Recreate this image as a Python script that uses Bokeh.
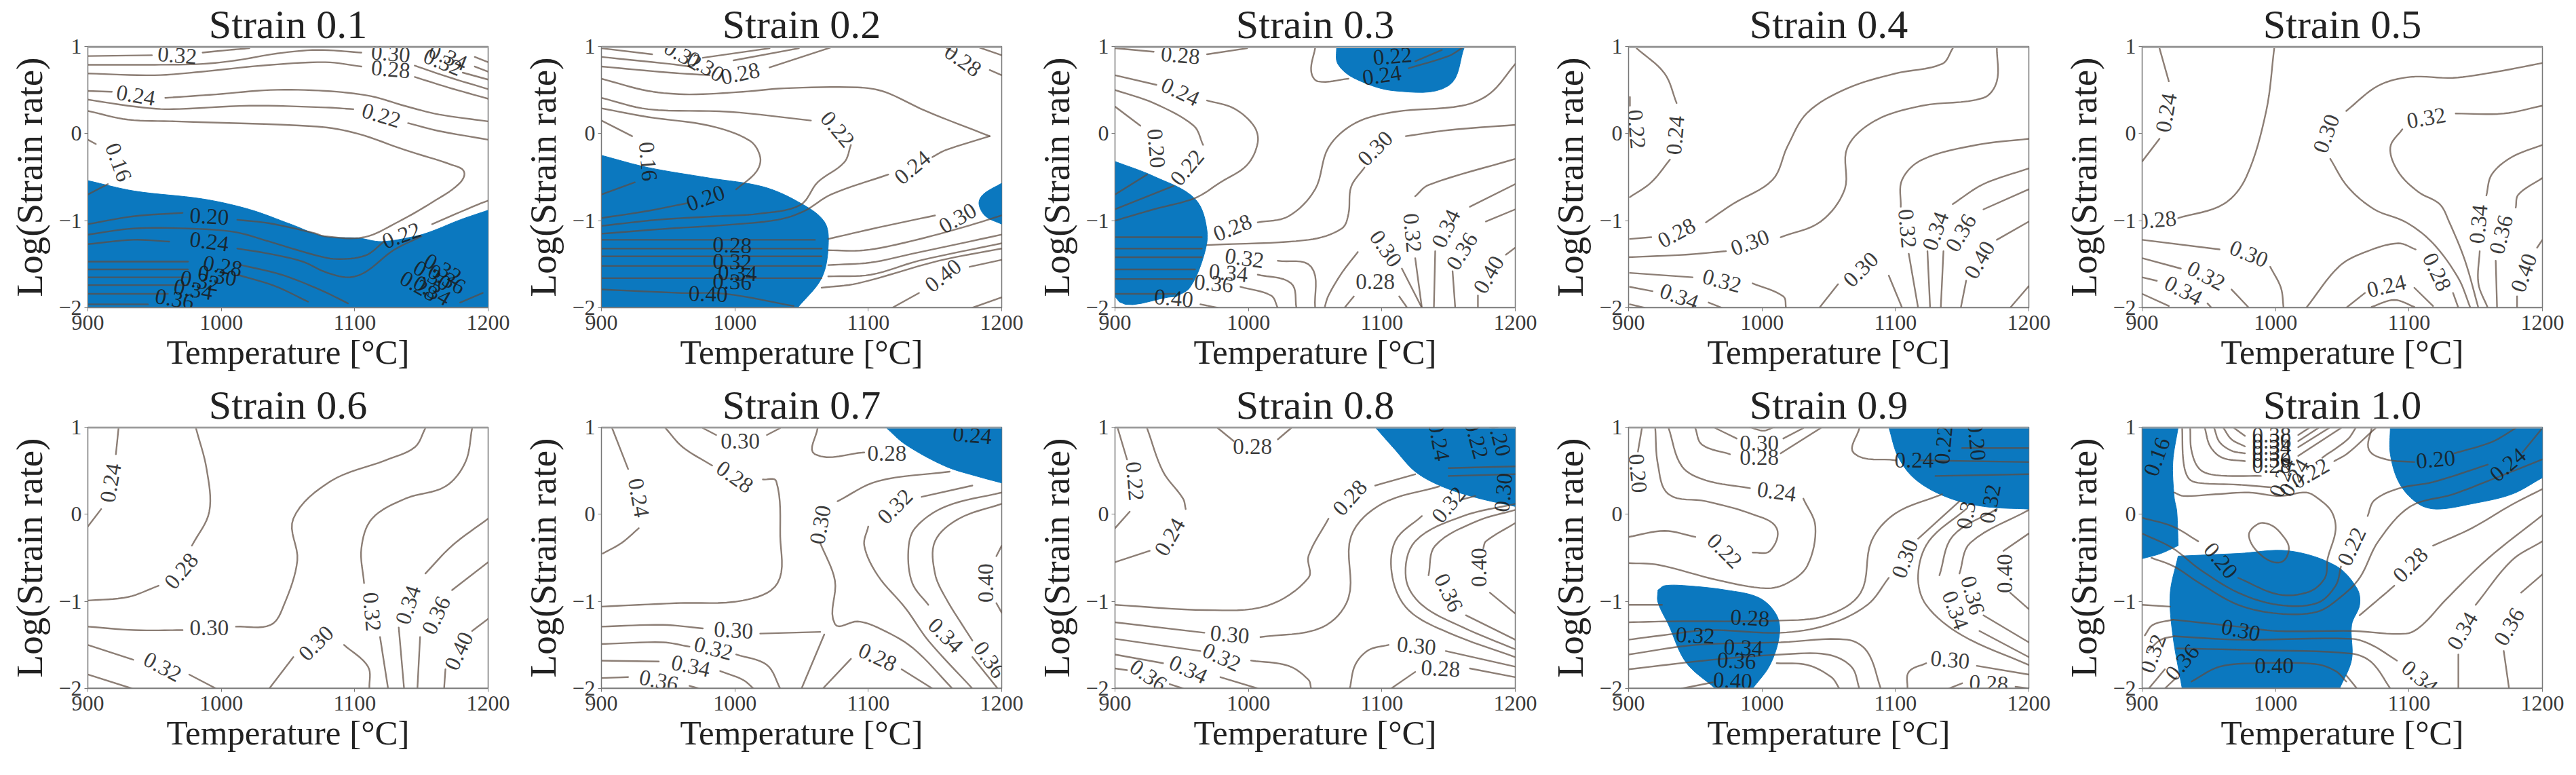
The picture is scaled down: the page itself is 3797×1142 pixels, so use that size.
from bokeh.plotting import figure
from bokeh.layouts import column, row
from bokeh.models import Span, ColumnDataSource, FixedTicker
from bokeh.core.properties import value
from bokeh.embed import file_html
from bokeh.resources import INLINE
import math

STRAINS = ["0.1", "0.2", "0.3", "0.4", "0.5", "0.6", "0.7", "0.8", "0.9", "1.0"]
X_TICKS = [900, 1000, 1100, 1200]
Y_TICKS = [-2, -1, 0, 1]
Y_TICK_TEXT = {-2: "\u22122", -1: "\u22121", 0: "0", 1: "1"}

# every point below is (temperature, log strain rate)
# labels are (temperature, log strain rate, text, angle)

S1_fill = [[[(900,-.54),(935,-.66),(986,-.75),(1021,-.87),(1052,-1.04),(1077,-1.18),(1103,-1.20),(1120,-1.24),(1145,-1.18),(1158,-1.12),(1179,-.99),(1200,-.88)],[(1200,-.88),(1200,-2),(900,-2),(900,-.54)]]]
S1_lines = [
 [(900,.89),(948,.90)],[(986,.93),(1006,.96),(1021,.98)],
 [(900,.79),(950,.79),(986,.80),(1011,.84),(1042,.92),(1072,.96),(1105,.93)],
 [(900,.69),(950,.67),(985,.71),(1030,.78),(1078,.82),(1105,.77)],
 [(1145,.78),(1170,.65),(1200,.51)],[(1145,.65),(1170,.53),(1200,.40)],[(1181,.70),(1200,.62)],[(1190,.77),(1200,.71)],[(1190,.88),(1200,.82)],
 [(900,.49),(918,.48)],[(958,.41),(996,.45),(1037,.50),(1078,.49),(1112,.43),(1137,.32),(1163,.22),(1200,.14)],
 [(900,.39),(935,.31),(961,.28),(1021,.32),(1078,.30),(1099,.28)],[(1140,.12),(1163,.03),(1200,-.07)],
 [(900,.26),(930,.16),(966,.14),(1072,.08),(1102,0),(1138,-.19),(1173,-.36),(1182,-.44),(1178,-.58),(1158,-.79),(1133,-1.01),(1107,-1.19),(1078,-1.18),(1069,-1.14),(1036,-1.03),(1012,-.99)],
 [(971,-.91),(934,-.95),(900,-1.04)],
 [(900,-.07),(906,-.12)],[(900,-.70),(915,-.58)],
 [(900,-1.16),(934,-1.09),(975,-1.09),(1010,-1.13),(1036,-1.24),(1069,-1.39),(1086,-1.44),(1108,-1.40),(1122,-1.24)],
 [(1158,-1.04),(1193,-.81),(1200,-.77)],
 [(900,-1.27),(934,-1.22),(961,-1.24)],[(1012,-1.32),(1036,-1.38),(1061,-1.47),(1078,-1.59),(1095,-1.65),(1108,-1.59),(1129,-1.34),(1150,-1.18)],
 [(900,-1.47),(975,-1.47)],[(900,-1.56),(975,-1.56)],[(900,-1.65),(975,-1.65)],[(900,-1.74),(975,-1.74)],[(900,-1.84),(960,-1.84)],[(900,-1.96),(945,-1.96)],
 [(1012,-1.50),(1045,-1.62),(1075,-1.80),(1095,-1.95)],[(1012,-1.62),(1040,-1.75),(1065,-1.93)],[(1179,-1.94),(1196,-1.83)],
]
S1_labels = [(967,.90,"0.32",-5),(1127,.92,"0.30",-5),(1127,.74,"0.28",-5),(1166,.82,"0.32",-22),(1170,.88,"0.34",-22),(936,.44,"0.24",-10),(1120,.21,"0.22",-17),(923,-.33,"0.16",-70),(991,-.95,"0.20",-3),(1135,-1.17,"0.22",20),(991,-1.24,"0.24",-8),
 (1001,-1.52,"0.28",-10),(997,-1.63,"0.30",-10),(984,-1.69,"0.32",-10),(979,-1.79,"0.34",-10),(965,-1.90,"0.36",-10),(1148,-1.75,"0.28",-30),(1158,-1.63,"0.30",-30),(1166,-1.55,"0.32",-30),(1158,-1.80,"0.34",-30),(1169,-1.67,"0.36",-30)]

S2_fill = [[[(900,-.25),(935,-.39),(981,-.51),(1021,-.61),(1047,-.78),(1067,-1.01),(1070,-1.29),(1065,-1.66),(1047,-2)],[(1047,-2),(900,-2),(900,-.25)]],
 [[(1200,-.57),(1186,-.70),(1183,-.81),(1188,-.95),(1200,-1.04)]]]
S2_lines = [
 [(900,.98),(938,.91)],[(900,.88),(951,.80),(966,.77)],[(900,.77),(951,.70),(981,.67)],
 [(976,.87),(1026,.98)],[(999,.84),(1048,.98)],[(1026,.76),(1072,.99)],
 [(900,.63),(935,.49),(966,.45),(1006,.48),(1037,.52),(1092,.53),(1112,.48),(1143,.26),(1191,-.03)],
 [(1191,-.03),(1158,-.19),(1148,-.27)],[(1115,-.47),(1072,-.70),(1052,-.89),(1032,-.99),(993,-1.05),(951,-1.09),(900,-1.15)],
 [(900,.41),(935,.28),(996,.25),(1057,.15)],[(1087,-.13),(1082,-.33),(1062,-.56),(1049,-.82),(1018,-.92),(985,-.95),(942,-.99),(900,-1.06)],
 [(900,.29),(935,.19),(981,.09),(1011,-.08),(1019,-.27),(1016,-.44),(1001,-.64)],[(964,-.80),(934,-.89),(900,-.97)],
 [(900,.15),(923,-.03)],[(900,-.70),(925,-.56)],
 [(1158,.99),(1165,.93)],[(1191,.73),(1200,.67)],[(1183,.99),(1200,.90)],
 [(1070,-1.21),(1107,-1.08),(1150,-.94)],[(1070,-1.34),(1097,-1.34),(1128,-1.25),(1168,-1.09),(1200,-.94)],
 [(1070,-1.51),(1102,-1.48),(1133,-1.38),(1200,-1.16)],[(1070,-1.64),(1102,-1.62),(1138,-1.46),(1200,-1.26)],[(1065,-1.77),(1092,-1.72),(1153,-1.46),(1200,-1.32)],
 [(1118,-2),(1138,-1.83)],[(1176,-1.53),(1200,-1.45)],[(1178,-2),(1200,-1.88)],
 [(900,-1.22),(1060,-1.22)],[(900,-1.32),(1065,-1.32)],[(900,-1.41),(1065,-1.41)],[(900,-1.52),(1065,-1.52)],[(900,-1.66),(1065,-1.66)],
 [(900,-1.79),(960,-1.83),(993,-1.84),(1044,-1.98)],
]
S2_labels = [(961,.90,"0.32",-30),(978,.77,"0.30",-30),(1004,.69,"0.28",12),(1171,.84,"0.28",-35),(1077,.05,"0.22",-50),(1133,-.39,"0.24",40),(935,-.32,"0.16",-85),(978,-.74,"0.20",20),(1167,-.97,"0.30",30),(998,-1.28,"0.28",-2),(998,-1.47,"0.32",-2),(1002,-1.60,"0.34",-2),(998,-1.70,"0.36",-2),(980,-1.84,"0.40",-2),(1156,-1.63,"0.40",38)]

S3_fill = [[[(900,-.32),(929,-.49),(960,-.75),(969,-1.12),(966,-1.43),(956,-1.77),(946,-1.87)],[(946,-1.87),(900,-1.87),(900,-.32)]],
 [[(1066,1),(1067,.80),(1080,.63),(1110,.49),(1150,.55),(1162,1)]]]
S3_lines = [
 [(900,.98),(929,.94)],[(969,.91),(999,.98)],
 [(900,.67),(931,.56)],[(969,.38),(989,.29),(1004,.09),(1007,-.10),(999,-.36),(979,-.56),(960,-.74),(929,-.87),(900,-1.0)],
 [(900,.50),(929,.35),(959,.09),(966,-.13)],[(944,-.60),(900,-.87)],
 [(900,.31),(919,.09)],[(924,-.47),(900,-.70)],
 [(1050,.98),(1047,.72),(1052,.60),(1075,.63)],[(1120,.75),(1150,.89),(1160,.98)],[(1125,.83),(1145,.96)],
 [(1007,-1.02),(1030,-.95),(1050,-.64),(1060,-.16),(1080,.12),(1110,.25),(1160,.32),(1181,.46),(1200,.80)],
 [(969,-1.28),(1045,-1.22),(1070,-1.09),(1075,-.92),(1077,-.61),(1087,-.39)],[(1118,-.03),(1150,.04),(1200,.10)],
 [(1125,-.72),(1135,-.59),(1200,-.29)],[(1125,-1.43),(1130,-2)],
 [(1166,-.84),(1200,-.58)],[(1140,-1.35),(1139,-2)],
 [(1178,-1.01),(1200,-.87)],[(1153,-1.58),(1155,-2)],
 [(1193,-1.39),(1200,-1.31)],[(1172,-1.86),(1172,-2)],
 [(1115,-1.55),(1130,-2)],[(1082,-1.36),(1070,-1.60),(1060,-1.86),(1057,-2)],[(1079,-1.87),(1072,-2)],[(1113,-1.87),(1119,-2)],
 [(1022,-1.46),(1047,-1.53),(1050,-2)],[(1007,-1.62),(1032,-1.72),(1036,-2)],[(994,-1.76),(1017,-1.86),(1022,-2)],[(964,-1.96),(977,-2)],
 [(900,-1.19),(965,-1.19)],[(900,-1.32),(965,-1.32)],[(900,-1.42),(965,-1.42)],[(900,-1.56),(960,-1.56)],[(900,-1.67),(958,-1.67)],[(900,-1.84),(945,-1.84)],
]
S3_labels = [(949,.90,"0.28",-5),(949,.48,"0.24",-25),(954,-.39,"0.22",50),(931,-.17,"0.20",-85),(1108,.89,"0.22",5),(1100,.67,"0.24",8),(988,-1.08,"0.28",22),(1095,-.17,"0.30",45),(1123,-1.14,"0.32",-85),(1148,-1.09,"0.34",65),(1160,-1.35,"0.36",58),(1180,-1.62,"0.40",60),(1103,-1.32,"0.30",-55),(1095,-1.70,"0.28",0),(997,-1.43,"0.32",-8),(985,-1.60,"0.34",-5),(974,-1.72,"0.36",-5),(944,-1.89,"0.40",-5)]

S4_fill = []
S4_lines = [
 [(906,.98),(927,.69),(936,.35)],[(931,-.30),(917,-.56),(901,-.73)],[(901,.42),(901,.32)],
 [(1143,.98),(1135,.80),(1100,.69),(1064,.52),(1034,.24),(1019,-.15),(1008,-.53),(978,-.81),(958,-1.02)],[(917,-1.19),(901,-1.21)],
 [(1176,.98),(1176,.60),(1166,.41),(1120,.32),(1085,.15),(1064,-.16),(1062,-.64),(1044,-1.01),(1014,-1.19)],[(973,-1.35),(943,-1.39),(900,-1.42)],
 [(1200,-.06),(1161,-.13),(1120,-.30),(1105,-.53),(1104,-.84)],[(1110,-1.38),(1117,-2)],
 [(1200,-.40),(1166,-.58),(1143,-.81)],[(1124,-1.35),(1126,-2)],
 [(1200,-.64),(1166,-.87)],[(1136,-1.35),(1134,-2)],
 [(1200,-1.01),(1176,-1.22)],[(1153,-1.69),(1149,-2)],[(1200,-1.75),(1186,-2)],
 [(1057,-1.73),(1043,-2)],[(1095,-1.63),(1105,-2)],
 [(901,-1.60),(948,-1.65)],[(993,-1.72),(1016,-1.87),(1018,-2)],
 [(901,-1.76),(918,-1.81)],[(960,-1.94),(970,-2)],[(901,-1.96),(912,-2)],
]
S4_labels = [(935,-.02,"0.24",85),(906,.05,"0.22",-85),(936,-1.14,"0.28",28),(991,-1.25,"0.30",20),(1109,-1.09,"0.32",-85),(1130,-1.12,"0.34",70),(1149,-1.14,"0.36",60),(1163,-1.45,"0.40",60),(1074,-1.56,"0.30",45),(970,-1.69,"0.32",-15),(938,-1.87,"0.34",-20)]

S5_fill = []
S5_lines = [
 [(913,.98),(920,.60)],[(913,-.06),(900,-.32)],
 [(999,.98),(993,.26),(978,-.50),(961,-.81),(927,-.97)],
 [(1200,.81),(1162,.70),(1133,.64),(1101,.65),(1077,.55),(1053,.26)],[(1041,-.29),(1054,-.61),(1074,-.87),(1098,-1.02),(1118,-1.26),(1137,-1.66),(1146,-2)],
 [(1200,.32),(1171,.23),(1135,.23)],[(1095,.05),(1086,-.16),(1092,-.44),(1107,-.67),(1123,-.81),(1130,-1.01),(1142,-1.46),(1152,-2)],
 [(1200,-.13),(1177,-.27),(1162,-.47),(1158,-.71)],[(1153,-1.35),(1152,-1.72),(1159,-2)],
 [(1200,-.51),(1182,-.70),(1180,-.85)],[(1165,-1.46),(1166,-2)],
 [(1200,-1.22),(1196,-1.31)],[(1181,-1.87),(1181,-2)],
 [(900,-1.22),(958,-1.33)],[(996,-1.53),(1004,-1.77),(1006,-2)],
 [(900,-1.43),(929,-1.55)],[(967,-1.79),(980,-2)],
 [(900,-1.65),(911,-1.69)],[(949,-1.95),(952,-2)],[(900,-1.84),(920,-1.98)],
 [(1023,-2),(1048,-1.52),(1069,-1.35),(1092,-1.26),(1105,-1.33)],[(1133,-1.83),(1137,-2)],
 [(1053,-2),(1067,-1.83)],[(1104,-1.77),(1118,-1.98)],[(1072,-1.99),(1089,-1.91),(1104,-1.99)],
]
S5_labels = [(918,.24,"0.24",80),(911,-.99,"0.28",5),(1038,0,"0.30",70),(1113,.18,"0.32",10),(1152,-1.04,"0.34",85),(1169,-1.16,"0.36",75),(1186,-1.60,"0.40",70),(980,-1.38,"0.30",-22),(948,-1.63,"0.32",-28),(931,-1.80,"0.34",-28),(1121,-1.59,"0.28",-65),(1083,-1.75,"0.24",13)]

S6_fill = []
S6_lines = [
 [(923,.99),(921,.69)],[(910,.06),(900,-.14)],
 [(981,.99),(989,.52),(991,.03),(978,-.36)],[(953,-.82),(930,-.95),(900,-.99)],
 [(1153,.99),(1145,.77),(1123,.62),(1082,.38),(1054,-.05),(1057,-.53),(1047,-1.04),(1037,-1.27),(1011,-1.29)],[(971,-1.33),(935,-1.33),(900,-1.29)],
 [(1188,.99),(1183,.60),(1168,.32),(1138,.18),(1113,-.05),(1105,-.39),(1107,-.79)],[(1119,-1.41),(1125,-2)],
 [(1200,-.05),(1173,-.36),(1153,-.68)],[(1133,-1.30),(1137,-2)],
 [(1200,-.55),(1173,-.87)],[(1149,-1.41),(1147,-2)],
 [(1200,-1.20),(1188,-1.34)],[(1168,-1.78),(1167,-2)],
 [(1092,-1.50),(1110,-1.75),(1111,-2)],[(1054,-1.64),(1036,-2)],
 [(900,-1.50),(934,-1.67)],[(976,-1.84),(996,-2)],[(900,-1.84),(933,-2)],
]
S6_labels = [(917,.36,"0.24",80),(970,-.65,"0.28",50),(991,-1.30,"0.30",0),(1113,-1.12,"0.32",-85),(1140,-1.04,"0.34",72),(1161,-1.16,"0.36",65),(1178,-1.57,"0.40",65),(1071,-1.48,"0.30",45),(956,-1.75,"0.32",-28)]

S7_fill = [[[(1113,1),(1128,.80),(1158,.55),(1183,.43),(1200,.36)],[(1200,.36),(1200,1),(1113,1)]]]
S7_lines = [
 [(908,.99),(920,.52)],[(928,-.16),(915,-.33),(901,-.45)],
 [(948,.99),(961,.77),(983,.56)],[(1021,.40),(1031,.38),(1034,-.25),(1032,-.79),(1006,-.99),(956,-1.02),(900,-1.06)],
 [(976,.99),(986,.91)],[(1024,.91),(1034,.99)],
 [(1062,.99),(1060,.69),(1097,.71)],
 [(1161,.49),(1107,.38),(1077,.15)],[(1064,-.33),(1075,-.76),(1075,-1.26),(1092,-1.23),(1107,-1.30),(1133,-1.53),(1163,-2)],
 [(900,-1.29),(946,-1.27),(976,-1.31)],[(1019,-1.37),(1064,-1.35)],[(1067,-1.38),(1050,-2)],
 [(900,-1.49),(946,-1.47),(966,-1.52)],[(1001,-1.61),(1024,-1.73),(1034,-2)],
 [(900,-1.68),(943,-1.69)],[(989,-1.80),(1006,-1.90),(1014,-2)],
 [(900,-1.88),(920,-1.87)],[(966,-1.97),(973,-2)],
 [(1066,-2),(1087,-1.66)],[(1125,-1.78),(1148,-2)],
 [(1140,.20),(1178,.33)],[(1100,-.14),(1097,-.36),(1107,-.70),(1128,-1.08),(1145,-1.45),(1178,-2)],
 [(1200,.25),(1158,.09),(1135,-.16),(1130,-.42),(1133,-.79),(1145,-1.04)],[(1178,-1.64),(1197,-2)],
 [(1200,.12),(1168,-.05),(1150,-.31),(1150,-.68),(1158,-.96),(1178,-1.45)],
 [(1200,-.36),(1196,-.48)],[(1196,-1.02),(1200,-1.13)],
]
S7_labels = [(928,.19,"0.24",-80),(1000,.43,"0.28",-35),(1004,.84,"0.30",0),(1114,.70,"0.28",0),(1064,-.12,"0.30",80),(999,-1.33,"0.30",-3),(984,-1.54,"0.32",-15),(967,-1.74,"0.34",-12),(943,-1.91,"0.36",-12),(1107,-1.64,"0.28",-25),(1120,.09,"0.32",45),(1158,-1.39,"0.34",-45),(1191,-1.67,"0.36",-55),(1188,-.79,"0.40",90),(1178,.91,"0.24",-5)]

S8_fill = [[[(1095,1),(1110,.74),(1125,.49),(1145,.32),(1171,.19),(1200,.09)],[(1200,.09),(1200,1),(1095,1)]]]
S8_lines = [
 [(924,.99),(936,.49),(951,.18),(953,.06)],[(926,-.42),(900,-.55)],
 [(902,.99),(909,.63)],[(911,.03),(900,-.16)],
 [(977,.99),(989,.84)],[(1022,.86),(1032,.99)],
 [(1125,.46),(1095,.33)],[(1060,-.05),(1045,-.48),(1045,-.73),(1014,-1.05),(969,-1.10),(900,-1.04)],
 [(1143,.32),(1100,.12),(1077,-.25),(1075,-.96),(1055,-1.30),(1009,-1.41)],[(967,-1.36),(900,-1.24)],
 [(1130,-.02),(1110,-.31),(1108,-.73),(1120,-1.10),(1150,-1.36),(1200,-1.64)],[(1160,.17),(1170,.21)],
 [(1200,.12),(1161,-.02),(1125,-.31),(1118,-.73),(1130,-1.04),(1161,-1.30),(1200,-1.55)],
 [(1200,.05),(1171,-.08),(1140,-.36),(1135,-.70)],[(1163,-1.16),(1200,-1.44)],
 [(1200,-.10),(1178,-.31),(1176,-.39)],[(1181,-.90),(1200,-1.14)],
 [(900,-1.43),(964,-1.57)],[(1002,-1.68),(1030,-1.74),(1045,-1.90),(1047,-2)],
 [(900,-1.61),(936,-1.71)],[(979,-1.87),(1007,-2)],
 [(900,-1.77),(909,-1.79)],[(941,-1.95),(951,-2)],
 [(1076,-2),(1080,-1.73),(1090,-1.56),(1105,-1.50)],[(1148,-1.57),(1200,-1.75)],
 [(1107,-2),(1125,-1.81)],[(1166,-1.77),(1200,-1.87)],
 [(1150,.53),(1200,.55)],[(1150,.44),(1200,.46)],
]
S8_labels = [(915,.38,"0.22",-85),(941,-.26,"0.24",60),(1003,.78,"0.28",0),(1076,.19,"0.28",48),(986,-1.38,"0.30",-5),(1150,.11,"0.32",50),(1150,-.90,"0.36",-65),(1173,-.61,"0.40",90),(980,-1.64,"0.32",-25),(955,-1.78,"0.34",-25),(925,-1.85,"0.36",-35),(1126,-1.51,"0.30",-5),(1144,-1.77,"0.28",-3),(1143,.84,"0.24",-80),(1171,.86,"0.22",-75),(1188,.89,"0.20",-75),(1191,.25,"0.30",85)]

S9_fill = [[[(922,-.87),(927,-.82),(943,-.82),(973,-.87),(998,-.96),(1011,-1.16),(1013,-1.39),(1006,-1.73),(993,-2)],[(993,-2),(965,-2)],[(965,-2),(943,-1.70),(930,-1.27),(922,-1.01),(922,-.87)]],
 [[(1095,1),(1102,.66),(1115,.40),(1138,.20),(1166,.09),(1200,.06)],[(1200,.06),(1200,1),(1095,1)]]]
S9_lines = [
 [(910,.99),(907,.72)],
 [(920,.99),(922,.57),(930,.23),(958,.15),(993,0),(1011,-.16),(1006,-.42),(993,-.44)],[(950,-.26),(927,-.19),(900,-.26)],
 [(930,.99),(940,.55),(958,.39),(991,.30)],[(1031,.18),(1040,-.14),(1034,-.59),(1019,-.79),(1003,-.85),(968,-.76),(922,-.58),(900,-.56)],
 [(950,.99),(955,.80),(976,.69)],[(1014,.70),(1044,.99)],
 [(965,.99),(981,.87)],[(1016,.87),(1031,.99)],[(991,1),(1001,.96),(1009,1)],
 [(1073,.99),(1069,.70),(1100,.62)],
 [(1135,.23),(1100,.01),(1082,-.31),(1074,-.90),(1049,-1.16),(1014,-1.22),(930,-1.23),(900,-1.24)],
 [(1148,.15),(1117,-.28)],[(1095,-.73),(1079,-1.04),(1049,-1.27),(1014,-1.36),(960,-1.33),(925,-1.39),(900,-1.44)],
 [(1153,.06),(1125,-.31),(1117,-.70),(1123,-1.04),(1150,-1.39),(1200,-1.73)],
 [(1176,.06),(1143,-.25),(1133,-.70)],[(1163,-1.34),(1200,-1.64)],
 [(1200,.05),(1156,-.33),(1148,-.68)],[(1166,-1.16),(1200,-1.47)],
 [(1200,-.22),(1181,-.42)],[(1186,-.90),(1200,-1.09)],
 [(1109,-2),(1110,-1.81),(1123,-1.71)],[(1161,-1.74),(1200,-1.84)],
 [(1140,-2),(1150,-1.94)],[(1190,-1.98),(1200,-2)],
 [(900,-1.04),(925,-1.04)],[(940,-2),(963,-1.93)],
 [(900,-1.61),(950,-1.50),(1014,-1.47),(1064,-1.44),(1079,-1.58),(1089,-2)],
 [(900,-1.78),(963,-1.67),(1014,-1.61),(1049,-1.61),(1067,-1.75),(1073,-2)],
 [(1011,-1.71),(1034,-1.73),(1052,-1.87),(1058,-2)],
 [(1150,.76),(1200,.76)],[(1118,.62),(1200,.60)],[(1130,.44),(1200,.46)],
]
S9_labels = [(907,.47,"0.20",-85),(972,-.42,"0.22",-45),(1011,.26,"0.24",-8),(998,.65,"0.28",0),(998,.82,"0.30",0),(1114,.62,"0.24",0),(1107,-.51,"0.30",70),(1145,-1.10,"0.34",-70),(1158,-.93,"0.36",-75),(1182,-.68,"0.40",90),(1141,-1.67,"0.30",-5),(1170,-1.94,"0.28",-3),(991,-1.19,"0.28",-3),(950,-1.39,"0.32",-3),(986,-1.53,"0.34",-3),(981,-1.68,"0.36",-3),(978,-1.91,"0.40",-3),(1136,.80,"0.22",85),(1161,.84,"0.20",-85),(1171,.12,"0.32",80),(1153,-.01,"0.3",80)]

S10_fill = [[[(900,1),(927,1)],[(927,1),(923,.60),(924,.20),(926,.03),(927,-.36)],[(927,-.36),(914,-.45),(900,-.51)],[(900,-.51),(900,1)]],
 [[(927,-.48),(972,-.45),(1010,-.42),(1045,-.59),(1061,-.85),(1063,-1.04),(1057,-1.27),(1057,-1.67),(1048,-2)],[(1048,-2),(930,-2)],[(930,-2),(923,-1.39),(921,-.91),(927,-.48)]],
 [[(1086,1),(1086,.69),(1093,.35),(1107,.12),(1121,.06),(1147,.12),(1177,.23),(1200,.42)],[(1200,.42),(1200,1),(1086,1)]]]
S10_lines = [
 [(930,.99),(931,.60),(935,.41),(943,.36),(972,.34),(996,.31)],[(936,.99),(937,.73),(943,.52),(955,.45),(989,.44)],
 [(947,.99),(951,.78),(960,.65),(977,.61)],[(954,.99),(958,.83),(967,.73),(977,.70)],[(961,.99),(967,.86),(977,.78)],[(969,.99),(977,.90)],
 [(1017,.67),(1049,.99)],[(1017,.77),(1040,.99)],[(1017,.84),(1032,.99)],[(1017,.91),(1025,.99)],[(1035,.65),(1054,.86),(1060,.99)],[(1044,.61),(1054,.70),(1075,.99)],
 [(1072,.99),(1070,.74),(1083,.63),(1104,.60)],[(1134,.70),(1162,.83),(1180,.99)],
 [(924,.25),(931,.21),(955,.23),(980,.25),(1003,.21),(1023,.25),(1032,.18),(1042,.03),(1045,-.18),(1039,-.51),(1037,-.73),(1025,-.89),(1002,-.92),(972,-.73)],
 [(942,-.31),(923,-.14),(900,-.04)],
 [(900,-.22),(923,-.39),(943,-.63),(972,-.90),(1002,-1.04),(1031,-1.02),(1045,-.82),(1049,-.60)],[(1069,-.02),(1074,.16),(1093,.30),(1118,.37),(1159,.57)],[(1185,.71),(1200,.99)],
 [(907,-.50),(924,-.60),(943,-.79),(972,-1.04),(1002,-1.14),(1031,-1.12),(1048,-.96),(1063,-.73),(1077,-.31),(1101,.09),(1133,.23),(1162,.40),(1200,.63)],
 [(1063,-1.16),(1083,-.90),(1089,-.82)],[(1118,-.36),(1147,-.16),(1177,.11),(1200,.29)],
 [(923,-1.21),(972,-1.29),(1001,-1.34),(1058,-1.34),(1098,-1.37),(1110,-1.27),(1127,-.99),(1159,-.51),(1200,-.01)],
 [(1200,-.31),(1177,-.53),(1150,-1.04)],[(1137,-1.61),(1137,-2)],
 [(1200,-.69),(1184,-.90)],[(1171,-1.57),(1175,-2)],
 [(924,-1.40),(972,-1.44),(1057,-1.43),(1072,-1.50),(1091,-1.68)],[(926,-1.54),(986,-1.56),(1057,-1.60),(1072,-1.70),(1086,-2)],[(1053,-1.85),(1061,-2)],
 [(900,-1.04),(921,-1.06)],[(902,-1.39),(908,-1.27),(923,-1.21)],[(905,-1.56),(914,-1.44),(924,-1.40)],[(905,-2),(917,-1.78)],[(917,-2),(926,-1.87)],
 [(987,-.11),(980,-.25),(990,-.48),(1004,-.55),(1010,-.39),(1004,-.22),(996,-.12),(987,-.11)],
 [(937,-1.92),(958,-1.75),(987,-1.71),(1030,-1.72),(1045,-1.80),(1053,-1.92)],
]
S10_labels = [(911,.66,"0.16",70),(997,.91,"0.38",0),(997,.84,"0.36",0),(997,.77,"0.34",0),(997,.70,"0.32",0),(997,.62,"0.30",0),(997,.56,"0.28",0),(1005,.42,"0.24",70),(1014,.42,"0.24",60),(1026,.47,"0.22",30),(959,-.53,"0.20",-50),(1057,-.37,"0.22",65),(1101,-.58,"0.28",45),(1120,.63,"0.20",5),(1174,.57,"0.24",40),(1140,-1.34,"0.34",60),(1175,-1.29,"0.36",60),(1108,-1.87,"0.34",-40),(908,-1.60,"0.32",70),(930,-1.70,"0.36",50),(974,-1.33,"0.30",-12),(999,-1.74,"0.40",0)]

FILLS = [S1_fill,S2_fill,S3_fill,S4_fill,S5_fill,S6_fill,S7_fill,S8_fill,S9_fill,S10_fill]
LINES = [S1_lines,S2_lines,S3_lines,S4_lines,S5_lines,S6_lines,S7_lines,S8_lines,S9_lines,S10_lines]
LABELS = [S1_labels,S2_labels,S3_labels,S4_labels,S5_labels,S6_labels,S7_labels,S8_labels,S9_labels,S10_labels]

SERIF = "Liberation Serif"
INK = "#222222"
EDGE = "#777777"
BLUE = "#0b78bf"
CONTOUR = "#5f4c40"


def path(pts, steps=8):
    """Draws a curve through the points that were read: a pen stroke, drawn in screen proportions."""
    if len(pts) < 3:
        return [p[0] for p in pts], [p[1] for p in pts]
    sx, sy = 1.97, 128.0
    q = [(x * sx, y * sy) for x, y in pts]
    closed = pts[0] == pts[-1]
    n = len(q)
    tang = []
    for i in range(n):
        if closed and i in (0, n - 1):
            a, b = q[n - 2], q[1]
        else:
            a, b = q[max(i - 1, 0)], q[min(i + 1, n - 1)]
        d = math.hypot(b[0] - a[0], b[1] - a[1]) or 1.0
        tang.append(((b[0] - a[0]) / d, (b[1] - a[1]) / d))
    xs, ys = [pts[0][0]], [pts[0][1]]
    for i in range(n - 1):
        p0, p3 = q[i], q[i + 1]
        d = math.hypot(p3[0] - p0[0], p3[1] - p0[1]) / 3.0
        p1 = (p0[0] + tang[i][0] * d, p0[1] + tang[i][1] * d)
        p2 = (p3[0] - tang[i + 1][0] * d, p3[1] - tang[i + 1][1] * d)
        for k in range(1, steps + 1):
            t = k / steps
            u = 1 - t
            cx = u**3 * p0[0] + 3 * u * u * t * p1[0] + 3 * u * t * t * p2[0] + t**3 * p3[0]
            cy = u**3 * p0[1] + 3 * u * u * t * p1[1] + 3 * u * t * t * p2[1] + t**3 * p3[1]
            xs.append(cx / sx)
            ys.append(cy / sy)
    return xs, ys


def panel(i):
    top_band = 5 if i < 5 else 4
    p = figure(frame_width=590, frame_height=385, x_range=(900, 1200), y_range=(-2, 1),
               output_backend="svg", toolbar_location=None,
               min_border_left=129, min_border_right=38, min_border_top=64, min_border_bottom=108,
               border_fill_color="white", outline_line_color=EDGE, outline_line_width=1.5,
               x_axis_label="Temperature [\u00b0C]", y_axis_label="Log(Strain rate)")
    p.title.text = "Strain " + STRAINS[i]
    p.title.align = "center"
    p.title.text_font = SERIF
    p.title.text_font_size = "60px"
    p.title.text_font_style = "normal"
    p.title.text_color = INK
    p.title.standoff = 0
    p.grid.visible = False
    for ax in (p.xaxis[0], p.yaxis[0]):
        ax.axis_line_color = EDGE
        ax.major_tick_line_color = EDGE
        ax.major_tick_out = 5
        ax.major_tick_in = 0
        ax.minor_tick_line_color = None
        ax.major_label_text_font = SERIF
        ax.major_label_text_font_size = "32px"
        ax.major_label_text_color = "#3a3a3a"
        ax.axis_label_text_font = SERIF
        ax.axis_label_text_font_style = "normal"
        ax.axis_label_text_color = INK
    p.xaxis[0].ticker = FixedTicker(ticks=X_TICKS)
    p.yaxis[0].ticker = FixedTicker(ticks=Y_TICKS)
    p.yaxis[0].major_label_overrides = Y_TICK_TEXT
    p.xaxis[0].axis_label_text_font_size = "51px"
    p.yaxis[0].axis_label_text_font_size = "55px"
    p.xaxis[0].major_label_standoff = 6
    p.yaxis[0].major_label_standoff = 4
    p.xaxis[0].axis_label_standoff = 2
    p.yaxis[0].axis_label_standoff = 9

    for shape in FILLS[i]:
        xs, ys = [], []
        for arc in shape:
            ax_, ay_ = path(arc)
            xs += ax_
            ys += ay_
        p.patch(xs, ys, fill_color=BLUE, line_color=BLUE, line_width=1)

    mx, my = [], []
    for pts in LINES[i]:
        a, b = path(pts)
        mx.append(a)
        my.append(b)
    p.multi_line(mx, my, line_color=CONTOUR, line_alpha=0.72, line_width=2.4, line_join="round", line_cap="round")

    src = ColumnDataSource(dict(x=[l[0] for l in LABELS[i]], y=[l[1] for l in LABELS[i]],
                                t=[l[2] for l in LABELS[i]], a=[l[3] for l in LABELS[i]]))
    p.text(x="x", y="y", text="t", angle="a", angle_units="deg", source=src,
           text_font=value(SERIF), text_font_size="33px", text_color="#1a1a1a", text_alpha=0.85,
           text_align="center", text_baseline="middle")

    p.add_layout(Span(location=1, dimension="width", line_color="#aaaaaa", line_width=top_band, level="overlay"))
    p.add_layout(Span(location=-2, dimension="width", line_color="#808080", line_width=2.5, level="overlay"))
    return p


figs = [panel(i) for i in range(10)]
page = column(row(*figs[:5]), row(*figs[5:]))
open("out.html", "w").write(file_html(page, INLINE))
